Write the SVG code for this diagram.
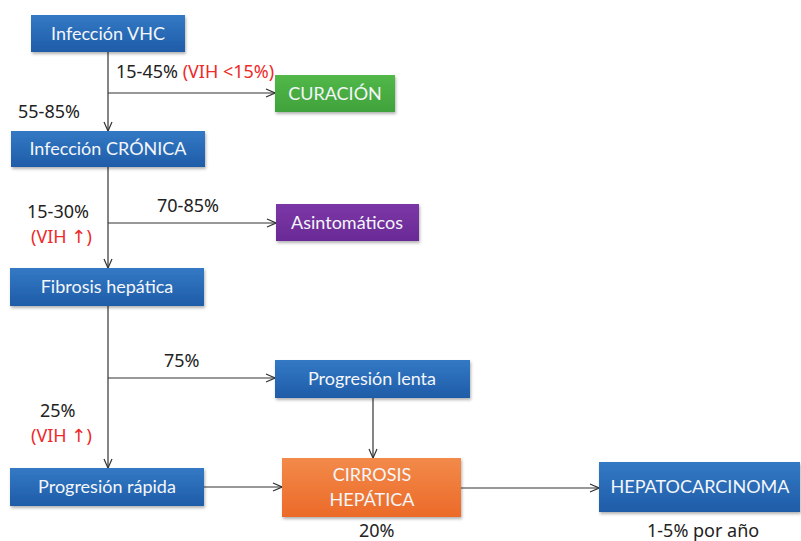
<svg xmlns="http://www.w3.org/2000/svg" width="801" height="541" viewBox="0 0 801 541">
  <style>
    .box { stroke: none; filter: url(#shadow); }
    .blue { fill: url(#gBlue); }
    .green { fill: url(#gGreen); }
    .purple { fill: url(#gPurple); }
    .orange { fill: url(#gOrange); }
    .lbl { font-family: Lato, "Open Sans", sans-serif; font-size: 18px; fill: #f4f6fa; text-anchor: middle; }
    .pct { font-family: "Noto Sans", "DejaVu Sans", sans-serif; font-size: 18px; fill: #222222; }
    .red { fill: #ee2a2a; }
    .conn { stroke: #333333; stroke-width: 1.2; fill: none; marker-end: url(#arrow); }
  </style>
  <defs>
    <linearGradient id="gBlue" x1="0" y1="0" x2="0" y2="1">
      <stop offset="0" stop-color="#3379c4"/>
      <stop offset="1" stop-color="#1f5ca8"/>
    </linearGradient>
    <linearGradient id="gGreen" x1="0" y1="0" x2="0" y2="1">
      <stop offset="0" stop-color="#52b848"/>
      <stop offset="1" stop-color="#3fa23c"/>
    </linearGradient>
    <linearGradient id="gPurple" x1="0" y1="0" x2="0" y2="1">
      <stop offset="0" stop-color="#7b37a6"/>
      <stop offset="1" stop-color="#6a2a96"/>
    </linearGradient>
    <linearGradient id="gOrange" x1="0" y1="0" x2="0" y2="1">
      <stop offset="0" stop-color="#f28a4a"/>
      <stop offset="1" stop-color="#ec6a28"/>
    </linearGradient>
    <filter id="shadow" x="-5%" y="-10%" width="115%" height="140%">
      <feDropShadow dx="1" dy="2" stdDeviation="1.5" flood-color="#000000" flood-opacity="0.3"/>
    </filter>
    <marker id="arrow" viewBox="0 0 10 10" refX="10" refY="5" markerWidth="10" markerHeight="10" markerUnits="userSpaceOnUse" orient="auto">
      <path d="M1,1 L10,5 L1,9" fill="none" stroke="#333333" stroke-width="1.2"/>
    </marker>
  </defs>

  <rect width="801" height="541" fill="#ffffff"/>

  <!-- connectors -->
  <g id="connectors">
    <line class="conn" x1="108" y1="52" x2="108" y2="131"/>
    <line class="conn" x1="108" y1="93" x2="275" y2="93"/>
    <line class="conn" x1="108" y1="167" x2="108" y2="268"/>
    <line class="conn" x1="108" y1="223" x2="276" y2="223"/>
    <line class="conn" x1="108" y1="306" x2="108" y2="468"/>
    <line class="conn" x1="108" y1="378" x2="275" y2="378"/>
    <line class="conn" x1="373" y1="398" x2="373" y2="458"/>
    <line class="conn" x1="204" y1="487" x2="282" y2="487"/>
    <line class="conn" x1="461" y1="488" x2="599" y2="488"/>
  </g>

  <!-- nodes -->
  <g id="infeccion-vhc">
    <rect class="box blue" x="31" y="15" width="154" height="37"/>
    <text class="lbl" x="108" y="40">Infección VHC</text>
  </g>
  <g id="curacion">
    <rect class="box green" x="275" y="75" width="120" height="37"/>
    <text class="lbl" x="335" y="100">CURACIÓN</text>
  </g>
  <g id="infeccion-cronica">
    <rect class="box blue" x="11" y="131" width="194" height="36"/>
    <text class="lbl" x="108" y="155">Infección CRÓNICA</text>
  </g>
  <g id="asintomaticos">
    <rect class="box purple" x="276" y="204" width="143" height="37"/>
    <text class="lbl" x="347" y="229">Asintomáticos</text>
  </g>
  <g id="fibrosis">
    <rect class="box blue" x="10" y="268" width="194" height="38"/>
    <text class="lbl" x="107" y="293">Fibrosis hepática</text>
  </g>
  <g id="progresion-lenta">
    <rect class="box blue" x="275" y="360" width="195" height="38"/>
    <text class="lbl" x="372" y="385">Progresión lenta</text>
  </g>
  <g id="progresion-rapida">
    <rect class="box blue" x="10" y="468" width="194" height="38"/>
    <text class="lbl" x="107" y="493">Progresión rápida</text>
  </g>
  <g id="cirrosis">
    <rect class="box orange" x="282" y="458" width="179" height="59"/>
    <text class="lbl" x="372" y="481">CIRROSIS</text>
    <text class="lbl" x="372" y="506">HEPÁTICA</text>
  </g>
  <g id="hepatocarcinoma">
    <rect class="box blue" x="599" y="462" width="201" height="50"/>
    <text class="lbl" x="700" y="493">HEPATOCARCINOMA</text>
  </g>

  <!-- percentages -->
  <g id="labels">
    <text class="pct" x="116" y="78">15-45% <tspan class="red">(VIH &lt;15%)</tspan></text>
    <text class="pct" x="18" y="118">55-85%</text>
    <text class="pct" x="27" y="218">15-30%</text>
    <text class="pct red" x="31" y="243">(VIH ↑)</text>
    <text class="pct" x="157" y="212">70-85%</text>
    <text class="pct" x="164" y="367">75%</text>
    <text class="pct" x="40" y="417">25%</text>
    <text class="pct red" x="31" y="442">(VIH ↑)</text>
    <text class="pct" x="359" y="537">20%</text>
    <text class="pct" x="647" y="537">1-5% por año</text>
  </g>
</svg>
